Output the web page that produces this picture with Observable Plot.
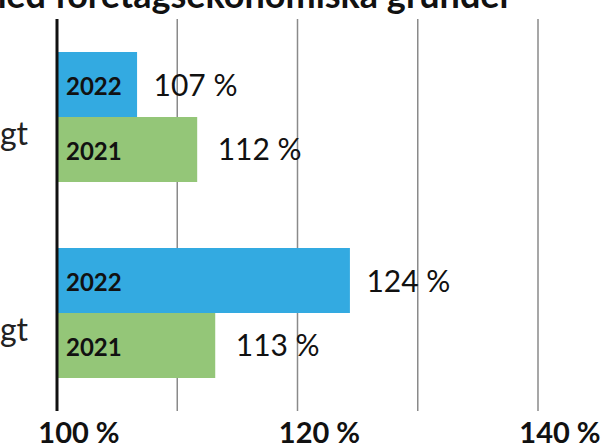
<!DOCTYPE html>
<html>
<head>
<meta charset="utf-8">
<script src="https://cdn.jsdelivr.net/npm/d3@7"></script>
<script src="https://cdn.jsdelivr.net/npm/@observablehq/plot@0.6"></script>
<style>
  html, body { margin: 0; padding: 0; background: #fff; overflow: hidden; }
  #wrap { position: relative; width: 611px; height: 445px; overflow: hidden; }
  #title { position: absolute; right: 98px; top: -24px; margin: 0; font: 700 36px/1 Lato, sans-serif; white-space: nowrap; color: #111; }
  #chart { position: absolute; left: 0; top: 0; }
</style>
</head>
<body>
<div id="wrap">
  <div id="chart"></div>
  <h1 id="title">Kostnadstäckningsgrad beräknad med företagsekonomiska grunder</h1>
</div>
<script>
const groups = ["Ovägt", "Vägt"];
const years = ["2022", "2021"];
const values2022 = [106.7, 124.4];
const values2021 = [111.7, 113.2];
const gridTicks = [110, 120, 130, 140];
const axisTicks = [100, 120, 140];
const colors = {"2022": "#33AAE1", "2021": "#94C678"};

const d2022 = groups.map((g, i) => ({group: g, year: years[0], value: values2022[i]}));
const d2021 = groups.map((g, i) => ({group: g, year: years[1], value: values2021[i]}));
const fmt = d => Math.round(d.value) + " %";

const chart = Plot.plot({
  width: 611,
  height: 445,
  marginTop: 19,
  marginBottom: 34,
  marginLeft: 56.5,
  marginRight: 73.5,
  style: {fontFamily: "Lato, sans-serif", color: "#111", background: "transparent"},
  x: {domain: [100, 140], label: null},
  y: {domain: groups, padding: 0, axis: null},
  marks: [
    Plot.ruleX(gridTicks, {stroke: "#8a8a8a", strokeWidth: 1.5}),
    Plot.barX(d2022, {x1: 100, x2: "value", y: "group", fill: colors["2022"], insetTop: 33, insetBottom: 98}),
    Plot.barX(d2021, {x1: 100, x2: "value", y: "group", fill: colors["2021"], insetTop: 98, insetBottom: 33}),
    Plot.ruleX([100], {stroke: "#111", strokeWidth: 3}),
    Plot.text(d2022, {x: 100, y: "group", text: "year", textAnchor: "start", dx: 9, dy: -30, fontSize: 24, fontWeight: 700}),
    Plot.text(d2021, {x: 100, y: "group", text: "year", textAnchor: "start", dx: 9, dy: 35, fontSize: 24, fontWeight: 700}),
    Plot.text(d2022, {x: "value", y: "group", text: fmt, textAnchor: "start", dx: 16, dy: -31, fontSize: 30}),
    Plot.text(d2021, {x: "value", y: "group", text: fmt, textAnchor: "start", dx: 20, dy: 33, fontSize: 30}),
    Plot.text(groups, {y: d => d, text: d => d, frameAnchor: "left", textAnchor: "end", dx: -29, dy: 17, fontSize: 32, fill: "#222"}),
    Plot.axisX({ticks: axisTicks, tickSize: 0, tickPadding: 11, tickFormat: d => d + " %", fontSize: 29, fontWeight: 700, dx: 22, label: null})
  ]
});
document.getElementById("chart").appendChild(chart);
</script>
</body>
</html>
